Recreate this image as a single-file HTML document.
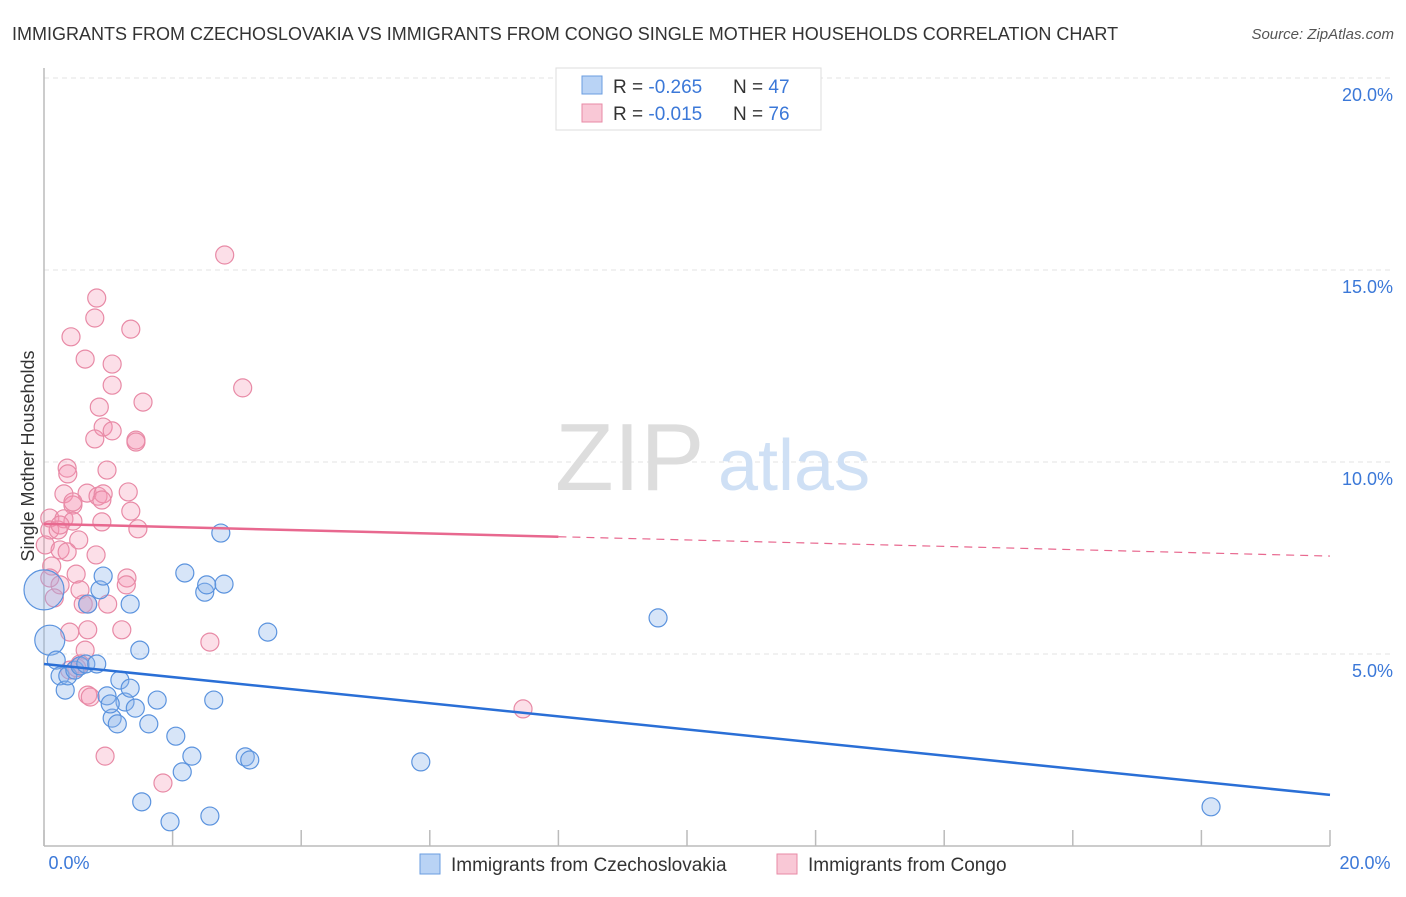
<!DOCTYPE html>
<html><head><meta charset="utf-8">
<style>
body{margin:0;background:#fff;font-family:"Liberation Sans",sans-serif;}
svg text{font-family:"Liberation Sans",sans-serif;}
</style></head>
<body>
<svg id="chart" width="1406" height="892" xmlns="http://www.w3.org/2000/svg">
<text x="12" y="40" font-size="18" fill="#333">IMMIGRANTS FROM CZECHOSLOVAKIA VS IMMIGRANTS FROM CONGO SINGLE MOTHER HOUSEHOLDS CORRELATION CHART</text>
<text x="1394" y="39" font-size="15" fill="#555" font-style="italic" text-anchor="end">Source: ZipAtlas.com</text>
<g id="grid"></g>
<g>
<text x="555" y="490" font-size="96" fill="#ddd" font-family="Liberation Serif">ZIP</text>
<text x="718" y="490" font-size="72" fill="#cfe0f5">atlas</text>
</g>
<line x1="44" y1="68" x2="44" y2="846" stroke="#bbb" stroke-width="1.5"/>
<line x1="44" y1="846" x2="1330" y2="846" stroke="#bbb" stroke-width="1.5"/>
<g id="xticks"></g>
<g id="ylabels"></g>
<text x="69" y="869" font-size="18" fill="#3b78d8" text-anchor="middle">0.0%</text>
<text x="1365" y="869" font-size="18" fill="#3b78d8" text-anchor="middle">20.0%</text>
<text transform="translate(34,456) rotate(-90)" font-size="18" fill="#333" text-anchor="middle">Single Mother Households</text>
<g id="pinkpts"></g>
<g id="bluepts"></g>
<g id="trends"></g>
<g>
<rect x="556" y="68" width="265" height="62" fill="#fff" stroke="#ddd"/>
<rect x="582" y="76" width="20" height="18" fill="#b9d3f5" stroke="#6a9de0"/>
<rect x="582" y="104" width="20" height="18" fill="#f9c8d6" stroke="#e88aa6"/>
<text x="613" y="93" font-size="19" fill="#333">R = <tspan fill="#3b78d8">-0.265</tspan></text>
<text x="733" y="93" font-size="19" fill="#333">N = <tspan fill="#3b78d8">47</tspan></text>
<text x="613" y="120" font-size="19" fill="#333">R = <tspan fill="#3b78d8">-0.015</tspan></text>
<text x="733" y="120" font-size="19" fill="#333">N = <tspan fill="#3b78d8">76</tspan></text>
</g>
<g>
<rect x="420" y="854" width="20" height="20" fill="#b9d3f5" stroke="#6a9de0"/>
<text x="451" y="871" font-size="19" fill="#333">Immigrants from Czechoslovakia</text>
<rect x="777" y="854" width="20" height="20" fill="#f9c8d6" stroke="#e88aa6"/>
<text x="808" y="871" font-size="19" fill="#333">Immigrants from Congo</text>
</g>
</svg>
<script>
const yTicks=[5,10,15,20];
const yTickLabels=["5.0%","10.0%","15.0%","20.0%"];
const blueX=[0.0,0.09,0.19,0.25,0.33,0.37,0.48,0.56,0.65,0.68,0.82,0.87,0.92,0.98,1.06,1.14,1.18,1.26,1.34,1.42,1.49,1.52,1.63,1.76,1.96,2.05,2.15,2.30,2.19,2.50,2.53,2.58,2.64,2.75,2.80,3.13,3.20,3.48,5.86,9.55,18.15,1.34,1.03];
const blueY=[6.67,5.36,4.84,4.43,4.06,4.43,4.58,4.69,4.74,6.30,4.74,6.67,7.03,3.91,3.33,3.18,4.32,3.75,4.11,3.59,5.10,1.15,3.18,3.80,0.63,2.86,1.93,2.34,7.11,6.61,6.80,0.78,3.80,8.15,6.82,2.32,2.24,5.57,2.19,5.94,1.02,6.30,3.70];
const pinkX=[2.81,0.82,0.79,1.35,0.42,0.64,1.06,1.06,3.09,1.54,0.86,0.92,1.06,0.79,1.43,1.43,0.36,0.37,0.98,0.31,0.67,0.84,0.92,1.31,0.45,1.35,0.09,0.31,0.90,0.45,1.46,0.09,0.22,0.02,0.25,0.54,0.81,0.12,0.09,0.50,0.25,0.56,0.61,0.68,0.99,1.29,1.28,0.40,0.68,1.21,0.64,2.58,0.40,0.51,0.56,0.68,0.72,0.95,1.85,7.45,0.45,0.16,0.36,0.90,0.25];
const pinkY=[15.39,14.27,13.75,13.46,13.26,12.68,12.55,12.0,11.93,11.56,11.43,10.91,10.81,10.60,10.57,10.52,9.84,9.69,9.79,9.17,9.19,9.11,9.17,9.22,8.88,8.72,8.54,8.52,8.44,8.46,8.26,8.23,8.23,7.84,7.71,7.97,7.58,7.29,6.98,7.08,6.80,6.67,6.30,6.30,6.30,6.98,6.80,5.57,5.63,5.63,5.10,5.31,4.58,4.64,4.74,3.93,3.88,2.34,1.64,3.57,8.96,6.46,7.66,9.01,8.36];
const blueTrend=[4.74,1.33];
const pinkTrend=[8.39,7.55];
const pinkSolidEnd=8.0;
const xTicks=[0,2,4,6,8,10,12,14,16,18,20];

const X=v=>44+v/20*1286, Y=v=>846-v/20*768;
const NS="http://www.w3.org/2000/svg";
function mk(t,a,p){const e=document.createElementNS(NS,t);for(const k in a)e.setAttribute(k,a[k]);p.appendChild(e);return e;}
const grid=document.getElementById('grid'), yl=document.getElementById('ylabels');
yTicks.forEach((t,i)=>{
 const l=mk('line',{x1:44,x2:1394,y1:Y(t),y2:Y(t),stroke:'#e3e3e3','stroke-dasharray':'5,4'},grid);
 
 
 const tx=mk('text',{x:1393,y:Y(t)+23,'font-size':18,fill:'#3b78d8','text-anchor':'end'},yl);
 tx.textContent=yTickLabels[i];
 
 
});
const xt=document.getElementById('xticks');
xTicks.forEach(t=>{
 const l=mk('line',{x1:X(t),x2:X(t),y1:830,y2:846,stroke:'#bbb','stroke-width':1.5},xt);
 
 
});
const pp=document.getElementById('pinkpts');
pinkX.forEach((x,i)=>{
 const c=mk('circle',{cx:X(x),cy:Y(pinkY[i]),r:9,fill:'rgba(244,150,178,0.3)',stroke:'#e88aa6','stroke-width':1.2},pp);
 
 
});
const bp=document.getElementById('bluepts');
blueX.forEach((x,i)=>{
 const r=i==0?20:(i==1?15:9);
 const c=mk('circle',{cx:X(x),cy:Y(blueY[i]),r:r,fill:'rgba(140,180,235,0.35)',stroke:'#5b93de','stroke-width':1.2},bp);
 
 
});
const tr=document.getElementById('trends');
const pm=v=>pinkTrend[0]+(pinkTrend[1]-pinkTrend[0])*v/20;
const b=mk('line',{x1:X(0),y1:Y(blueTrend[0]),x2:X(20),y2:Y(blueTrend[1]),stroke:'#2a6fd6','stroke-width':2.5},tr);


const p1=mk('line',{x1:X(0),y1:Y(pm(0)),x2:X(pinkSolidEnd),y2:Y(pm(pinkSolidEnd)),stroke:'#e8688f','stroke-width':2.5},tr);


const p2=mk('line',{x1:X(pinkSolidEnd),y1:Y(pm(pinkSolidEnd)),x2:X(20),y2:Y(pm(20)),stroke:'#e8688f','stroke-width':1.2,'stroke-dasharray':'8,6'},tr);


</script>
</body></html>
